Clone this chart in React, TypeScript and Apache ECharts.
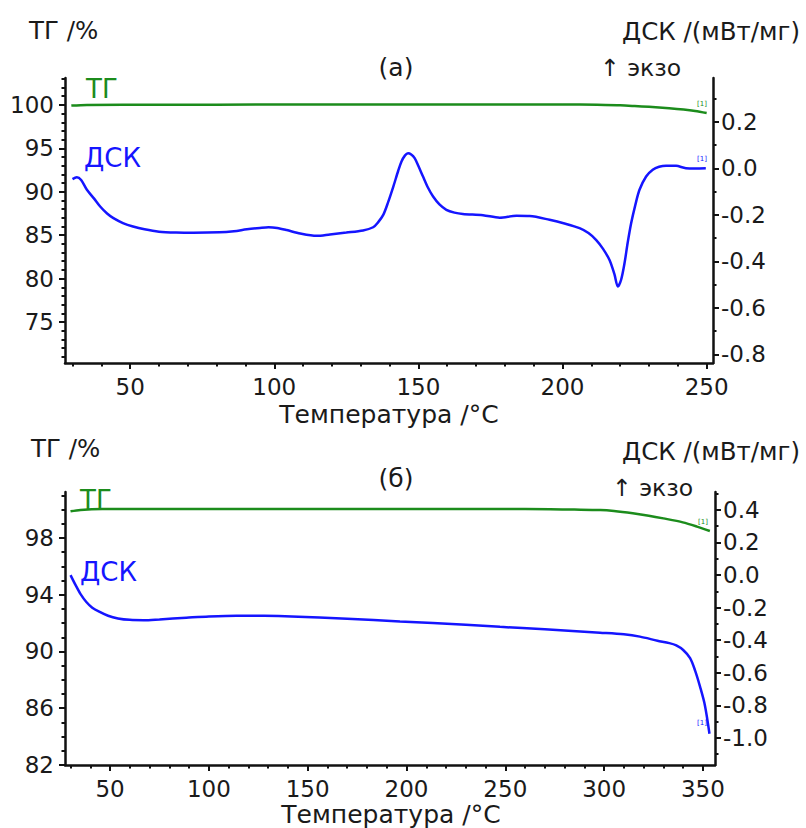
import React, { useEffect, useRef } from "react";
import * as echarts from "echarts";

// ---------- Data: chart (а) ----------
const tempTgA = [29.6, 35, 60, 100, 150, 180, 200, 212, 220, 225, 230, 237, 242, 246, 250];
const tgA = [99.92, 100.0, 100.02, 100.04, 100.05, 100.05, 100.04, 100.03, 99.95, 99.87, 99.78, 99.62, 99.47, 99.3, 99.06];

const tempDscA = [
  30.0, 31.5, 33, 35, 37.5, 39.6, 42, 44.2, 47.5, 51, 55, 60, 66, 72, 81, 86, 90.5, 95, 98, 101,
  104.3, 109, 114.7, 119.3, 125, 130.8, 134.3, 136, 137.8, 139.5, 141.3, 143, 144.1, 145.3, 146.4,
  147.5, 148.7, 150, 151.6, 153.3, 155.1, 157.3, 159.7, 162.5, 165.4, 172.4, 178.2, 184, 188.6,
  195.5, 201, 205.9, 209, 211.7, 214, 216.3, 218, 219.2, 220.3, 221.5, 222.6, 223.8, 225.2, 226.7,
  229, 231.3, 233.5, 235.9, 239.4, 242.8, 246, 249.7,
];
const dscA = [
  -0.046, -0.038, -0.05, -0.092, -0.13, -0.164, -0.194, -0.214, -0.235, -0.25, -0.262, -0.272, -0.276,
  -0.277, -0.275, -0.27, -0.262, -0.256, -0.253, -0.256, -0.265, -0.28, -0.29, -0.284, -0.276, -0.267,
  -0.253, -0.232, -0.2, -0.145, -0.078, -0.01, 0.029, 0.055, 0.065, 0.06, 0.044, 0.01, -0.035, -0.082,
  -0.121, -0.155, -0.178, -0.19, -0.196, -0.201, -0.212, -0.204, -0.205, -0.221, -0.238, -0.257,
  -0.278, -0.308, -0.345, -0.394, -0.455, -0.508, -0.48, -0.408, -0.32, -0.236, -0.16, -0.092, -0.035,
  -0.006, 0.007, 0.012, 0.011, 0.001, 0.0, 0.001,
];

// ---------- Data: chart (б) ----------
const tempTgB = [30, 35, 46, 100, 150, 200, 260, 285, 298, 305, 314.5, 322.6, 330, 339.8, 347, 353.5];
const tgB = [99.88, 99.98, 100.04, 100.04, 100.04, 100.04, 100.04, 100.0, 99.97, 99.9, 99.74, 99.57, 99.38, 99.1, 98.8, 98.49];

const tempDscB = [
  30, 32.5, 35, 38, 41, 44.5, 49, 54, 60, 67, 75, 88.6, 100, 114, 128, 141.8, 170, 196.7, 230, 247.3,
  270, 297.9, 310, 318.1, 327, 333, 336.5, 340, 343.5, 346, 348.6, 351, 353.3,
];
const dscB = [
  0.0, -0.06, -0.115, -0.165, -0.2, -0.225, -0.25, -0.266, -0.275, -0.277, -0.272, -0.262, -0.254,
  -0.249, -0.25, -0.254, -0.268, -0.285, -0.305, -0.318, -0.333, -0.354, -0.364, -0.378, -0.403,
  -0.418, -0.432, -0.46, -0.51, -0.585, -0.688, -0.8, -0.974,
];

// ---------- Tick labels ----------
const xMajorA = [50, 100, 150, 200, 250];
const xMajorB = [50, 100, 150, 200, 250, 300, 350];
const tgMajorA = [75, 80, 85, 90, 95, 100];
const tgMajorB = [82, 86, 90, 94, 98];
const dscMajorA = [0.2, 0.0, -0.2, -0.4, -0.6, -0.8];
const dscMajorB = [0.4, 0.2, 0.0, -0.2, -0.4, -0.6, -0.8, -1.0];

const range = (a: number, b: number, step: number, skip: number[]) => {
  const out: number[] = [];
  for (let v = a; v <= b + 1e-9; v += step) {
    const r = Math.round(v * 1000) / 1000;
    if (!skip.some((s) => Math.abs(s - r) < 1e-6)) out.push(r);
  }
  return out;
};

const FONT = "DejaVu Sans";
const TXT = "#1a1a1a";
const GREEN = "#1c8c1c";
const BLUE = "#1515ff";
const AX = "#111";

function majorAxis(gridIndex: number, min: number, max: number, ticks: number[], position: string, fmt: (v: number) => string, margin: number) {
  return {
    type: "value",
    gridIndex,
    min,
    max,
    position,
    axisLine: { show: true, onZero: false, lineStyle: { color: AX, width: 2.5 } },
    axisTick: { show: true, customValues: ticks, length: 6, lineStyle: { color: AX, width: 2 } },
    axisLabel: { show: true, customValues: ticks, formatter: fmt, margin, fontSize: 23, fontFamily: FONT, color: TXT },
    splitLine: { show: false },
  };
}
function minorAxis(gridIndex: number, min: number, max: number, ticks: number[], position: string) {
  return {
    type: "value",
    gridIndex,
    min,
    max,
    position,
    axisLine: { show: false, onZero: false },
    axisTick: { show: true, customValues: ticks, length: 3.5, lineStyle: { color: AX, width: 2 } },
    axisLabel: { show: false },
    splitLine: { show: false },
  };
}

const intFmt = (v: number) => String(Math.round(v));
const decFmt = (v: number) => (Math.abs(v) < 1e-9 ? "0.0" : v.toFixed(1));

function txt(x: number, y: number, text: string, align: string, fill = TXT, size = 24.5) {
  return {
    type: "text",
    x,
    y,
    style: { text, fill, fontSize: size, fontFamily: FONT, textAlign: align, textVerticalAlign: "middle" },
  };
}

export default function App() {
  const ref = useRef<HTMLDivElement>(null);
  useEffect(() => {
    if (!ref.current) return;
    const chart = echarts.init(ref.current, null, { renderer: "svg" });
    const xA = [27.4, 252.2];
    const yLA = [70.28, 103.1];
    const yRA = [-0.837, 0.389];
    const xB = [27.2, 356.1];
    const yLB = [82, 101.24];
    const yRB = [-1.166, 0.51];

    const pair = (xs: number[], ys: number[]) => xs.map((x, i) => [x, ys[i]]);
    const line = (xi: number, yi: number, data: number[][], color: string) => ({
      type: "line",
      xAxisIndex: xi,
      yAxisIndex: yi,
      data,
      showSymbol: false,
      symbol: "none",
      smooth: 0.3,
      lineStyle: { color, width: 2.5 },
      itemStyle: { color },
    });

    chart.setOption({
      animation: false,
      backgroundColor: "#fff",
      grid: [
        { left: 65, top: 78, width: 648, height: 285 },
        { left: 65, top: 492, width: 650, height: 273 },
      ],
      xAxis: [
        majorAxis(0, xA[0], xA[1], xMajorA, "bottom", intFmt, 12),
        minorAxis(0, xA[0], xA[1], range(30, 250, 10, xMajorA), "bottom"),
        majorAxis(1, xB[0], xB[1], xMajorB, "bottom", intFmt, 12),
        minorAxis(1, xB[0], xB[1], range(30, 350, 10, xMajorB), "bottom"),
      ],
      yAxis: [
        majorAxis(0, yLA[0], yLA[1], tgMajorA, "left", intFmt, 11),
        minorAxis(0, yLA[0], yLA[1], range(71, 103, 1, tgMajorA), "left"),
        majorAxis(0, yRA[0], yRA[1], dscMajorA, "right", decFmt, 8),
        minorAxis(0, yRA[0], yRA[1], range(-0.7, 0.3, 0.2, []), "right"),
        majorAxis(1, yLB[0], yLB[1], tgMajorB, "left", intFmt, 11),
        minorAxis(1, yLB[0], yLB[1], range(83, 101, 1, tgMajorB), "left"),
        majorAxis(1, yRB[0], yRB[1], dscMajorB, "right", decFmt, 8),
        minorAxis(1, yRB[0], yRB[1], range(-1.1, 0.5, 0.2, []), "right"),
      ],
      series: [
        line(0, 0, pair(tempTgA, tgA), GREEN),
        line(0, 2, pair(tempDscA, dscA), BLUE),
        line(2, 4, pair(tempTgB, tgB), GREEN),
        line(2, 6, pair(tempDscB, dscB), BLUE),
      ],
      graphic: [
        txt(29, 30, "ТГ /%", "left"),
        txt(396, 67, "(а)", "center", TXT, 25),
        txt(800, 31, "ДСК /(мВт/мг)", "right"),
        txt(600, 68, "↑ экзо", "left", TXT, 23.5),
        txt(389, 414, "Температура /°C", "center", TXT, 25),
        txt(86, 89, "ТГ", "left", GREEN, 26),
        txt(84, 158, "ДСК", "left", BLUE, 26),
        txt(702, 104, "[1]", "center", GREEN, 7),
        txt(702, 159, "[1]", "center", BLUE, 7),

        txt(31, 448, "ТГ /%", "left"),
        txt(396, 478, "(б)", "center", TXT, 25),
        txt(800, 451, "ДСК /(мВт/мг)", "right"),
        txt(612, 488, "↑ экзо", "left", TXT, 23.5),
        txt(391, 814, "Температура /°C", "center", TXT, 25),
        txt(80, 500, "ТГ", "left", GREEN, 26),
        txt(80, 572, "ДСК", "left", BLUE, 26),
        txt(703, 522, "[1]", "center", GREEN, 7),
        txt(702, 723, "[1]", "center", BLUE, 7),
      ],
    });
    return () => chart.dispose();
  }, []);
  return <div ref={ref} style={{ position: "fixed", left: 0, top: 0, width: 806, height: 828 }} />;
}
